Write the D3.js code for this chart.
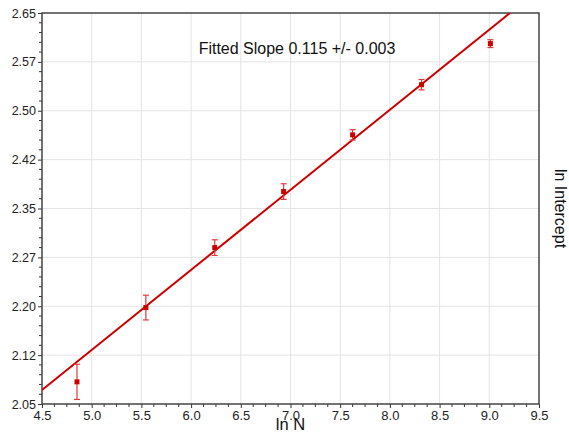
<!DOCTYPE html>
<html>
<head>
<meta charset="utf-8">
<script src="https://cdn.jsdelivr.net/npm/d3@7"></script>
<style>
  html, body { margin: 0; padding: 0; background: #fff; }
  svg { display: block; font-family: "Liberation Sans", Arial, Helvetica, sans-serif; }
</style>
</head>
<body>
<svg id="chart" width="569" height="434"></svg>
<script>
// ---- data ----
const lnN = [4.852, 5.545, 6.238, 6.931, 7.625, 8.318, 9.011];
const lnIntercept = [2.084, 2.198, 2.290, 2.376, 2.463, 2.540, 2.603];
const errors = [0.027, 0.019, 0.012, 0.012, 0.008, 0.008, 0.006];
const fitX = [4.5, 9.208];
const fitY = [2.0715, 2.65];
const xTicks = [4.5, 5.0, 5.5, 6.0, 6.5, 7.0, 7.5, 8.0, 8.5, 9.0, 9.5];
const xTickLabels = ["4.5", "5.0", "5.5", "6.0", "6.5", "7.0", "7.5", "8.0", "8.5", "9.0", "9.5"];
const yTicks = [2.05, 2.125, 2.2, 2.275, 2.35, 2.425, 2.5, 2.575, 2.65];
const yTickLabels = ["2.05", "2.12", "2.20", "2.27", "2.35", "2.42", "2.50", "2.57", "2.65"];
const titleText = "Fitted Slope 0.115 +/- 0.003";
const xLabel = "ln N";
const yLabel = "ln Intercept";

// ---- layout ----
const svg = d3.select("#chart");
const L = 42, R = 539, T = 13, B = 404;
const x = d3.scaleLinear().domain([4.5, 9.5]).range([L, R]);
const y = d3.scaleLinear().domain([2.05, 2.65]).range([B, T]);

svg.append("defs").append("clipPath").attr("id", "clip")
  .append("rect").attr("x", L).attr("y", T).attr("width", R - L).attr("height", B - T);

// grid
const grid = svg.append("g").attr("stroke", "#e4e4e4").attr("stroke-width", 1);
grid.selectAll("line.gx").data(xTicks.slice(1, -1)).enter().append("line")
  .attr("x1", d => x(d)).attr("x2", d => x(d)).attr("y1", T).attr("y2", B);
grid.selectAll("line.gy").data(yTicks.slice(1, -1)).enter().append("line")
  .attr("y1", d => y(d)).attr("y2", d => y(d)).attr("x1", L).attr("x2", R);

// minor ticks
const xMinor = [];
for (let i = 0; i < xTicks.length - 1; i++) for (let k = 1; k < 4; k++) xMinor.push(xTicks[i] + k * 0.125);
const yMinor = [];
for (let i = 0; i < yTicks.length - 1; i++) for (let k = 1; k < 5; k++) yMinor.push(yTicks[i] + k * 0.015);

// axes
const xAxis = d3.axisBottom(x).tickValues(xTicks).tickFormat((d, i) => xTickLabels[i]).tickSize(4).tickPadding(3);
const gx = svg.append("g").attr("transform", `translate(0,${B})`).call(xAxis);
gx.select(".domain").remove();
gx.selectAll(".tick line").attr("stroke", "#333").attr("stroke-width", 1);
gx.selectAll(".tick text").attr("fill", "#222").style("font-size", "13px");
svg.append("g").selectAll("line").data(xMinor).enter().append("line")
  .attr("x1", d => x(d)).attr("x2", d => x(d)).attr("y1", B).attr("y2", B + 3)
  .attr("stroke", "#333").attr("stroke-width", 1);

const yAxis = d3.axisLeft(y).tickValues(yTicks).tickFormat((d, i) => yTickLabels[i]).tickSize(4).tickPadding(2);
const gy = svg.append("g").attr("transform", `translate(${L},0)`).call(yAxis);
gy.select(".domain").remove();
gy.selectAll(".tick line").attr("stroke", "#333").attr("stroke-width", 1);
gy.selectAll(".tick text").attr("fill", "#222").style("font-size", "12.5px");
svg.append("g").selectAll("line").data(yMinor).enter().append("line")
  .attr("y1", d => y(d)).attr("y2", d => y(d)).attr("x1", L - 3).attr("x2", L)
  .attr("stroke", "#333").attr("stroke-width", 1);

// frame
svg.append("rect").attr("x", L).attr("y", T).attr("width", R - L).attr("height", B - T)
  .attr("fill", "none").attr("stroke", "#444").attr("stroke-width", 1.5);

// fit line
svg.append("path").attr("clip-path", "url(#clip)")
  .datum(fitX.map((d, i) => [d, fitY[i]]))
  .attr("d", d3.line().x(d => x(d[0])).y(d => y(d[1])))
  .attr("stroke", "#cc0000").attr("stroke-width", 2).attr("fill", "none");

// error bars
const eb = svg.append("g").attr("stroke", "#dd3b3b").attr("stroke-width", 1.2);
lnN.forEach((xv, i) => {
  const cx = x(xv), y0 = y(lnIntercept[i] - errors[i]), y1 = y(lnIntercept[i] + errors[i]);
  eb.append("line").attr("x1", cx).attr("x2", cx).attr("y1", y0).attr("y2", y1);
  eb.append("line").attr("x1", cx - 3).attr("x2", cx + 3).attr("y1", y0).attr("y2", y0);
  eb.append("line").attr("x1", cx - 3).attr("x2", cx + 3).attr("y1", y1).attr("y2", y1);
});

// points
svg.append("g").selectAll("rect").data(lnN).enter().append("rect")
  .attr("x", d => x(d) - 2.5).attr("y", (d, i) => y(lnIntercept[i]) - 2.5)
  .attr("width", 5).attr("height", 5).attr("fill", "#c80000");

// title
svg.append("text").attr("x", 297).attr("y", 54).attr("text-anchor", "middle")
  .style("font-size", "16px").attr("fill", "#111").text(titleText);

// axis labels
svg.append("text").attr("x", (L + R) / 2).attr("y", 430).attr("text-anchor", "middle")
  .style("font-size", "16.5px").attr("fill", "#111").text(xLabel);
svg.append("text").attr("transform", `translate(555,${(T + B) / 2}) rotate(90)`)
  .attr("text-anchor", "middle").style("font-size", "16px").attr("fill", "#111").text(yLabel);
</script>
</body>
</html>
